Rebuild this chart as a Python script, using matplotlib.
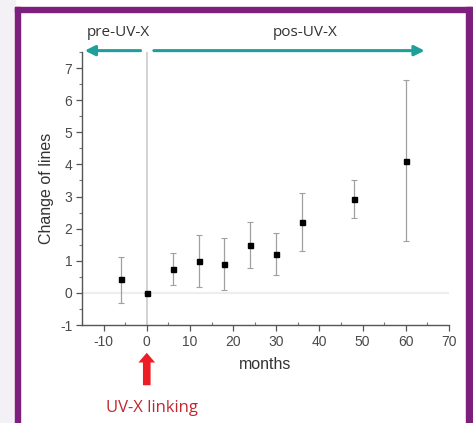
import matplotlib
matplotlib.use("Agg")
import matplotlib.pyplot as plt
from matplotlib.patches import Rectangle
from matplotlib.ticker import MultipleLocator

plt.rcParams["axes.unicode_minus"] = False

# data
months = [-6, 0, 6, 12, 18, 24, 30, 36, 48, 60]
change = [0.42, 0.0, 0.75, 1.0, 0.9, 1.5, 1.21, 2.22, 2.92, 4.12]
err_lo = [0.72, 0.0, 0.50, 0.82, 0.82, 0.71, 0.66, 0.91, 0.58, 2.50]
err_hi = [0.70, 0.0, 0.50, 0.80, 0.82, 0.71, 0.66, 0.90, 0.60, 2.52]

W, H = 473, 423
fig = plt.figure(figsize=(W / 100, H / 100), dpi=100)
fig.patch.set_facecolor("white")

# frame around the figure (page decoration)
def px_rect(x0, y0, x1, y1, color):
    fig.patches.append(Rectangle((x0 / W, 1 - y1 / H), (x1 - x0) / W, (y1 - y0) / H,
                                 transform=fig.transFigure, color=color, zorder=0))

px_rect(0, 0, 15, H, "#f3f1f5")
px_rect(15, 7, 20, H, "#7d1f7c")
px_rect(466, 7, 472, H, "#7d1f7c")
px_rect(15, 7, 472, 12, "#7d1f7c")

ax = fig.add_axes([82 / W, 1 - 325 / H, (449 - 82) / W, (325 - 52) / H])
ax.set_xlim(-15, 70)
ax.set_ylim(-1, 7.5)

ax.axhline(0, color="#eeeeee", lw=1.6, zorder=1)
ax.axvline(0, color="#d2d2d2", lw=1.4, zorder=1)

ax.errorbar(months, change, yerr=[err_lo, err_hi], fmt="s", color="black",
            ms=3.6, ecolor="#a0a0a0", elinewidth=0.9, capsize=2, capthick=0.8, zorder=3)

for s in ["top", "right"]:
    ax.spines[s].set_visible(False)
for s in ["left", "bottom"]:
    ax.spines[s].set_color("#555555")
    ax.spines[s].set_linewidth(1.0)

ax.xaxis.set_major_locator(MultipleLocator(10))
ax.xaxis.set_minor_locator(MultipleLocator(5))
ax.yaxis.set_major_locator(MultipleLocator(1))
ax.yaxis.set_minor_locator(MultipleLocator(0.5))
ax.tick_params(which="major", length=4, width=0.9, color="#555555",
               labelsize=10, labelcolor="#4a4a4a", pad=3)
ax.tick_params(which="minor", length=2.5, width=0.8, color="#777777")
ax.tick_params(axis="x", which="minor", direction="in")
for lab in ax.get_xticklabels() + ax.get_yticklabels():
    lab.set_fontfamily("Liberation Sans")

ax.set_xlabel("months", fontsize=11.5, color="#333333", family="Liberation Sans", labelpad=6)
ax.set_ylabel("Change of lines", fontsize=11.5, color="#333333", family="Liberation Sans", labelpad=4)

# teal period arrows
teal = "#1f9e9b"
ax.annotate("", xy=(-15, 1.005), xytext=(-0.8, 1.005), xycoords=("data", "axes fraction"),
            textcoords=("data", "axes fraction"),
            arrowprops=dict(arrowstyle="-|>,head_length=0.6,head_width=0.3", color=teal, lw=2.2),
            annotation_clip=False)
ax.annotate("", xy=(65, 1.005), xytext=(1.0, 1.005), xycoords=("data", "axes fraction"),
            textcoords=("data", "axes fraction"),
            arrowprops=dict(arrowstyle="-|>,head_length=0.6,head_width=0.3", color=teal, lw=2.2),
            annotation_clip=False)
fig.text(118 / W, 1 - 33 / H, "pre-UV-X", ha="center", va="center", fontsize=11,
         color="#333333", family="Open Sans")
fig.text(305 / W, 1 - 32 / H, "pos-UV-X", ha="center", va="center", fontsize=11,
         color="#333333", family="Open Sans")

# red marker arrow under x = 0
ax.annotate("", xy=(0, 1 - 350 / H), xytext=(0, 1 - 388 / H),
            xycoords=("data", "figure fraction"), textcoords=("data", "figure fraction"),
            arrowprops=dict(arrowstyle="simple,head_length=0.7,head_width=1.2,tail_width=0.55",
                            color="#ee1c25", lw=0),
            annotation_clip=False)
fig.text(152 / W, 1 - 408 / H, "UV-X linking", ha="center", va="center", fontsize=12,
         color="#c1272d", family="Open Sans")

fig.savefig("out.png", dpi=100)
